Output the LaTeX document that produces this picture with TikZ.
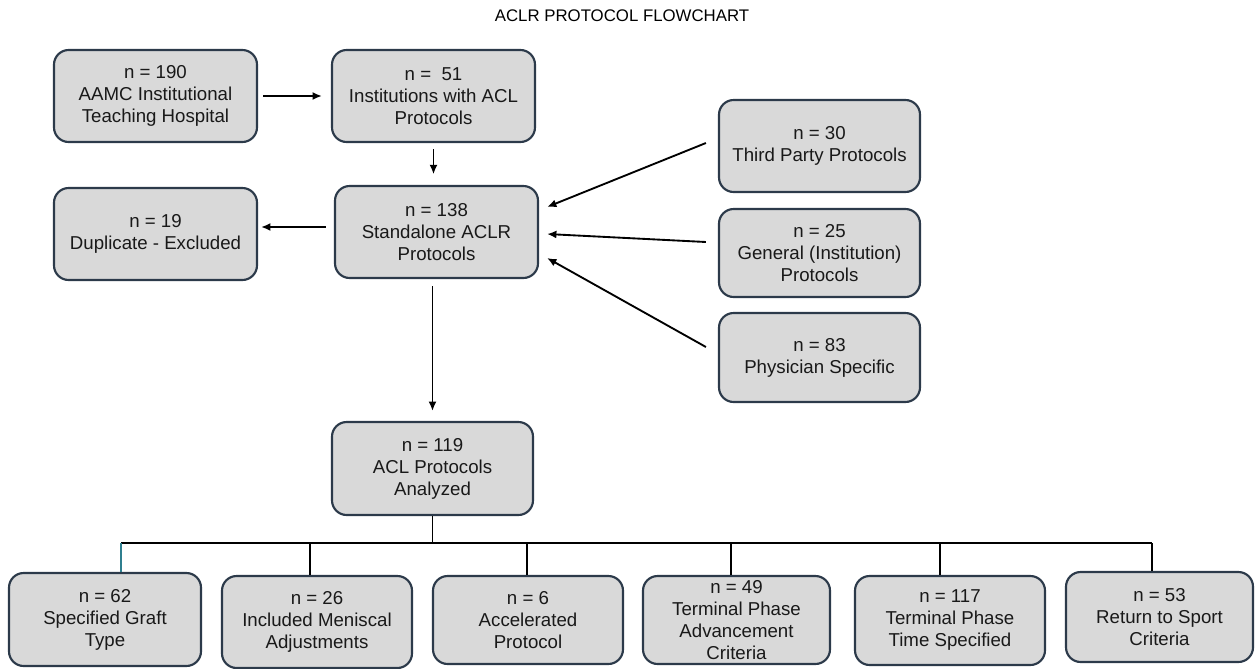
\documentclass[tikz,border=0pt]{standalone}
\usepackage{fontspec}
\setmainfont{Liberation Sans}
\usetikzlibrary{arrows.meta,calc}
\definecolor{boxfill}{HTML}{D9D9D9}
\definecolor{boxline}{HTML}{2C3A4A}
\definecolor{tealline}{HTML}{2F7F8F}
\begin{document}
\begin{tikzpicture}[x=0.75pt,y=-0.75pt,
  box/.style={draw=boxline, line width=1.6pt, fill=boxfill, rounded corners=11pt,
    align=center, inner sep=0pt, text=black!90, font=\fontsize{14}{16.5}\selectfont},
  sz/.style 2 args={minimum width=#1*0.75pt, minimum height=#2*0.75pt},
  titlefont/.style={font=\fontsize{12.6}{15}\selectfont, text=black},
  arr/.style={-{Latex[length=7pt,width=6pt]}, line width=1.4pt, black},
  conn/.style={line width=1.4pt, black}]
\useasboundingbox (0,0) rectangle (1255,668);
\node[titlefont] (T) at (622,16) {ACLR PROTOCOL FLOWCHART};

\node[box,sz={203}{92}] (A) at (155.5,96) {n = 190\\AAMC Institutional\\Teaching Hospital};
\node[box,sz={203}{92}] (B) at (433.5,96) {n =~~51\\Institutions with ACL\\Protocols};
\node[box,sz={203}{92}] (C) at (436.5,232) {n = 138\\Standalone ACLR\\Protocols};
\node[box,sz={203}{92}] (D) at (155.5,234) {n = 19\\Duplicate - Excluded};
\node[box,sz={201}{92}] (E) at (819.5,146) {n = 30\\Third Party Protocols};
\node[box,sz={201}{88}] (F) at (819.5,253) {n = 25\\General (Institution)\\Protocols};
\node[box,sz={201}{89}] (G) at (819.5,357.5) {n = 83\\Physician Specific};
\node[box,sz={201}{93}] (H) at (432.5,468.5) {n = 119\\ACL Protocols\\Analyzed};

\node[box,sz={192}{93}] (b1) at (105,619.5) {n = 62\\Specified Graft\\Type};
\node[box,sz={190}{92}] (b2) at (317,622) {n = 26\\Included Meniscal\\Adjustments};
\node[box,sz={190}{88}] (b3) at (528,620) {n = 6\\Accelerated\\Protocol};
\node[box,sz={187}{88}] (b4) at (736.5,620) {n = 49\\Terminal Phase\\Advancement\\Criteria};
\node[box,sz={190}{89}] (b5) at (950,620.5) {n = 117\\Terminal Phase\\Time Specified};
\node[box,sz={187}{90}] (b6) at (1159.5,617) {n = 53\\Return to Sport\\Criteria};

\draw[arr, shorten <=3.75pt, shorten >=6.75pt] (A.east) -- (B.west);
\draw[arr, shorten <=4.5pt, shorten >=8pt] (B.south) -- (B.south |- C.north);
\draw[arr, shorten <=6pt, shorten >=2.25pt] ($(C.west)+(0,-5)$) -- ($(D.east)+(0,-7)$);
\draw[arr] ($(E.west)+(-12,-3)$) -- ($(C.east)+(8,-25)$);
\draw[arr] ($(F.west)+(-12,-11)$) -- ($(C.east)+(8,2)$);
\draw[arr] ($(G.west)+(-12,-10.5)$) -- ($(C.east)+(8,26)$);
\draw[arr, shorten <=5.25pt, shorten >=7.5pt] (H.north |- C.south) -- (H.north);

\coordinate (bus) at (432.5,543);
\coordinate (j1) at (121,543);
\coordinate (j2) at (310,543);
\coordinate (j3) at (527,543);
\coordinate (j4) at (731,543);
\coordinate (j5) at (940,543);
\coordinate (j6) at (1152,543);
\draw[conn] (H.south) -- (bus);
\draw[conn] (j1) -- (j6);
\draw[conn, tealline] (j1) -- (j1 |- b1.north);
\draw[conn] (j2) -- (j2 |- b2.north);
\draw[conn] (j3) -- (j3 |- b3.north);
\draw[conn] (j4) -- (j4 |- b4.north);
\draw[conn] (j5) -- (j5 |- b5.north);
\draw[conn] (j6) -- (j6 |- b6.north);
\end{tikzpicture}
\end{document}
